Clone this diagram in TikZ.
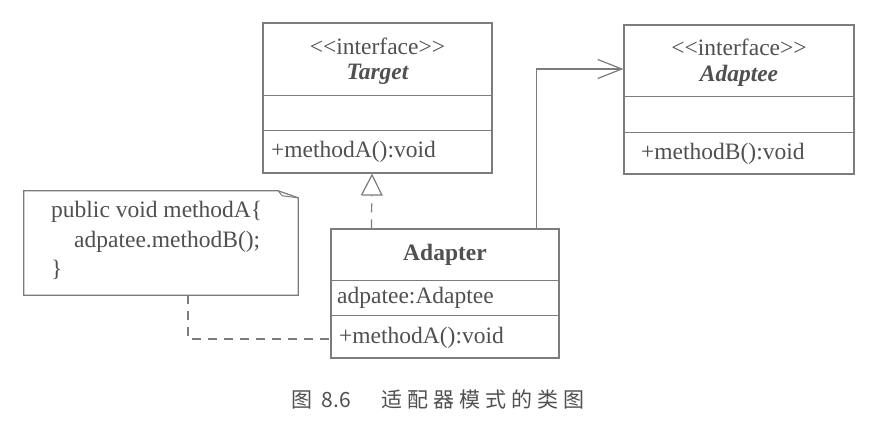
\documentclass[tikz,border=0pt]{standalone}
\usepackage{fontspec}
\setmainfont{Liberation Serif}
\newfontfamily\cjk{Noto Sans CJK SC}
\usetikzlibrary{arrows.meta}
\definecolor{ln}{HTML}{7c7c7c}
\definecolor{tx}{HTML}{505050}
\newcommand{\stereo}{<\kern0pt<interface>\kern0pt>}
\begin{document}
\begin{tikzpicture}[x=1pt,y=-1pt,
  every node/.style={font=\fontsize{23.5}{28}\selectfont, text=tx, inner sep=0pt},
  cls/.style={draw=ln, line width=1.2pt, rectangle},
  rule/.style={draw=ln, line width=1.2pt},
  dline/.style={draw=ln, line width=1.2pt, dash pattern=on 9pt off 7pt},
  lbl/.style={anchor=west}]
\fill[white] (0,0) rectangle (892,444);
\useasboundingbox (0,0) rectangle (892,444);

% Target
\node[cls, minimum width=229pt, minimum height=150pt] (tgt) at (377.5,98) {};
\draw[rule] ([yshift=-73pt]tgt.north west) -- ([yshift=-73pt]tgt.north east);
\draw[rule] ([yshift=-108pt]tgt.north west) -- ([yshift=-108pt]tgt.north east);
\node (tgtst) at (377.5,46) {\stereo};
\node (tgtnm) at (377.5,74) {\bfseries\itshape Target};
\node[lbl] (tgtm) at (271,152) {+methodA():void};

% Adaptee
\node[cls, minimum width=230pt, minimum height=149pt] (ade) at (739,99.5) {};
\draw[rule] ([yshift=-72pt]ade.north west) -- ([yshift=-72pt]ade.north east);
\draw[rule] ([yshift=-108pt]ade.north west) -- ([yshift=-108pt]ade.north east);
\node (adest) at (739,47) {\stereo};
\node (adenm) at (739,76) {\bfseries\itshape Adaptee};
\node[lbl] (adem) at (641,154) {+methodB():void};

% Adapter
\node[cls, minimum width=228pt, minimum height=129pt] (adp) at (445,293.5) {};
\draw[rule] ([yshift=-52pt]adp.north west) -- ([yshift=-52pt]adp.north east);
\draw[rule] ([yshift=-87pt]adp.north west) -- ([yshift=-87pt]adp.north east);
\node (adpnm) at (445,255) {\bfseries Adapter};
\node[lbl] (adpa) at (337,298) {adpatee:Adaptee};
\node[lbl] (adpm) at (339,338) {+methodA():void};

% Note
\node[minimum width=274pt, minimum height=104pt] (note) at (161,243) {};
\draw[rule] (note.north west) -- ([xshift=-20pt]note.north east)
  -- ([yshift=-7pt]note.north east) -- (note.south east)
  -- (note.south west) -- cycle;
\draw[draw=ln, line width=1pt] ([xshift=-20pt]note.north east)
  -- ([xshift=-16pt,yshift=-5pt]note.north east) -- ([yshift=-7pt]note.north east);
\node[lbl] (n1) at (51,212) {public void methodA\{};
\node[lbl] (n2) at (74,242) {adpatee.methodB();};
\node[lbl] (n3) at (51,270) {\}};

% Connectors
\draw[dline, -{Triangle[open, length=22pt, width=22pt, line width=1.2pt]}]
  ([xshift=41pt]adp.north west) -- ([xshift=-5.5pt]tgt.south);
\draw[rule, -{Straight Barb[length=24pt, width=19pt, line width=1.2pt]}]
  ([xshift=-23pt]adp.north east) |- ([yshift=30.5pt]ade.west);
\draw[dline] ([xshift=27pt]note.south) |- ([yshift=-45.5pt]adp.west);

% Caption
\node[font=\cjk\fontsize{21}{25}\selectfont] (cap) at (438,399)
  {图\hspace{9pt}8.6\hspace{30pt}适\hspace{5pt}配\hspace{5pt}器\hspace{5pt}模\hspace{5pt}式\hspace{5pt}的\hspace{5pt}类\hspace{5pt}图};
\end{tikzpicture}
\end{document}
